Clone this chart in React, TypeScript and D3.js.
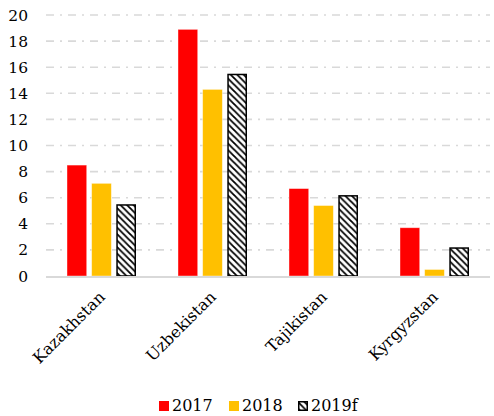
import React from "react";
import * as d3 from "d3";

const categories = ["Kazakhstan", "Uzbekistan", "Tajikistan", "Kyrgyzstan"];
const seriesNames = ["2017", "2018", "2019f"];
const values2017 = [8.5, 18.9, 6.7, 3.7];
const values2018 = [7.1, 14.3, 5.4, 0.5];
const values2019f = [5.5, 15.5, 6.2, 2.2];
const yTicks = [0, 2, 4, 6, 8, 10, 12, 14, 16, 18, 20];

const seriesValues = [values2017, values2018, values2019f];
const fills = ["#FF0000", "#FFC000", "url(#hatch)"];

export default function App() {
  const W = 494, H = 416;
  const left = 46, right = 490, top = 15, bottom = 276;
  const font = "'DejaVu Serif', serif";

  const x0 = d3.scaleBand<string>().domain(categories).range([left, right]).padding(0);
  const x1 = d3.scaleBand<string>().domain(seriesNames).range([21, 90]).paddingInner(0.2);
  const y = d3.scaleLinear().domain([0, 20]).range([bottom, top]);

  const legendItems = [
    { name: "2017", sx: 159, tx: 172 },
    { name: "2018", sx: 229, tx: 242 },
    { name: "2019f", sx: 298, tx: 311 },
  ];

  return (
    <svg width={W} height={H} style={{ position: "absolute", left: 0, top: 0, background: "#fff" }}>
      <defs>
        <pattern id="hatch" patternUnits="userSpaceOnUse" width="6.5" height="6.5">
          <rect width="6.5" height="6.5" fill="#fff" />
          <path d="M0,0 L6.5,6.5 M-1,5.5 L1,7.5 M5.5,-1 L7.5,1" stroke="#000" strokeWidth="1.8" />
        </pattern>
      </defs>
      {yTicks.filter((t) => t > 0).map((t) => (
        <line key={"g" + t} x1={left} x2={right} y1={y(t)} y2={y(t)}
          stroke="#d9d9d9" strokeWidth={1.6} strokeDasharray="8,6,2,6" />
      ))}
      {yTicks.map((t) => (
        <text key={"t" + t} x={28} y={y(t)} dy="0.36em" textAnchor="end"
          fontFamily={font} fontSize={15.5} fill="#000">{t}</text>
      ))}
      {categories.map((c, ci) => (
        <g key={c}>
          {seriesNames.map((s, si) => {
            const v = seriesValues[si][ci];
            const bx = (x0(c) as number) + (x1(s) as number);
            const bw = x1.bandwidth();
            const isHatch = si === 2;
            return (
              <rect key={s}
                x={isHatch ? bx + 0.75 : bx}
                y={isHatch ? y(v) + 0.75 : y(v)}
                width={isHatch ? bw - 1.5 : bw}
                height={isHatch ? y(0) - y(v) - 0.75 : y(0) - y(v)}
                fill={fills[si]}
                stroke={isHatch ? "#000" : "rgba(255,255,255,0.5)"}
                strokeWidth={isHatch ? 1.5 : 0.8} />
            );
          })}
          <text
            transform={`translate(${(x0(c) as number) + x0.bandwidth() / 2 + 4.5},${bottom + 22}) rotate(-45)`}
            textAnchor="end" fontFamily={font} fontSize={16} fill="#000">{c}</text>
        </g>
      ))}
      <line x1={left} x2={right} y1={bottom + 1} y2={bottom + 1} stroke="#d9d9d9" strokeWidth={2} />
      {legendItems.map((l, i) => (
        <g key={l.name}>
          <rect x={i === 2 ? l.sx + 0.75 : l.sx} y={i === 2 ? 401.75 : 401}
            width={i === 2 ? 8.5 : 10} height={i === 2 ? 8.5 : 10}
            fill={fills[i]} stroke={i === 2 ? "#000" : "none"} strokeWidth={1.5} />
          <text x={l.tx} y={411} fontFamily={font} fontSize={16} fill="#000">{l.name}</text>
        </g>
      ))}
    </svg>
  );
}
